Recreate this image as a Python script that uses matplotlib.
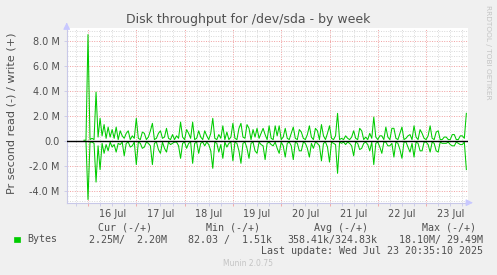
import matplotlib
matplotlib.use("Agg")
import matplotlib.pyplot as plt
import matplotlib.dates as mdates
from matplotlib.patches import Rectangle
from matplotlib.ticker import FuncFormatter, MultipleLocator
import numpy as np
import pandas as pd

# hourly samples in MB/s, first one at 15 Jul 22:00
start = "2025-07-15 22:00"
write_m = [0.05, 0.05,
           # 16 Jul
           8.5, 0.1, 0.2, 0.1, 3.9, 0.3, 1.8, 0.4, 1.3, 0.2, 1.1, 0.3,
           0.9, 0.2, 1.1, 0.1, 0.8, 0.4, 0.2, 0.6, 0.8, 0.1, 0.4, 0.2,
           # 17 Jul
           1.8, 0.2, 0.1, 0.7, 0.6, 0.1, 0.3, 0.8, 1.4, 0.1, 0.2, 0.6,
           0.8, 0.2, 0.3, 1.0, 0.2, 0.1, 0.5, 0.1, 0.4, 0.2, 1.5, 0.3,
           # 18 Jul
           0.1, 0.9, 0.6, 0.2, 1.5, 0.1, 0.2, 0.8, 0.3, 0.1, 0.8, 0.4,
           0.1, 0.6, 1.8, 0.2, 0.1, 0.5, 0.2, 1.2, 0.1, 0.7, 0.1, 0.3,
           # 19 Jul
           1.4, 0.2, 0.1, 1.0, 1.4, 0.3, 0.2, 1.3, 1.0, 0.1, 0.9, 0.3,
           1.0, 0.2, 0.6, 1.0, 0.5, 0.1, 1.2, 0.2, 0.1, 1.2, 0.4, 1.2,
           # 20 Jul
           0.1, 0.3, 1.0, 0.2, 0.1, 0.6, 1.1, 0.2, 0.1, 0.9, 0.7, 0.2,
           0.1, 0.5, 1.2, 0.3, 0.1, 1.0, 0.8, 0.1, 1.3, 0.4, 0.1, 0.6,
           # 21 Jul
           1.2, 0.2, 0.1, 0.4, 2.2, 0.1, 0.2, 0.1, 0.4, 0.2, 0.1, 0.3,
           0.8, 0.2, 0.1, 1.0, 0.8, 0.1, 0.3, 0.1, 0.6, 0.2, 1.9, 0.3,
           # 22 Jul
           0.1, 0.4, 0.4, 0.1, 1.1, 0.3, 0.1, 1.0, 1.0, 0.2, 0.1, 0.6,
           1.1, 0.1, 0.2, 0.4, 0.5, 0.1, 1.2, 0.3, 0.1, 0.9, 0.6, 0.2,
           # 23 Jul
           0.1, 0.4, 1.2, 0.2, 0.1, 0.7, 0.8, 0.1, 0.1, 0.3, 0.3, 0.1,
           0.1, 0.5, 0.5, 0.1, 0.1, 0.4, 0.4, 0.2, 2.2]
read_m = [0.05, 0.05,
          # 16 Jul
          4.7, 0.1, 0.1, 0.2, 3.3, 0.4, 2.3, 0.2, 1.0, 0.3, 0.8, 0.1,
          0.5, 0.3, 0.9, 0.2, 0.3, 0.1, 1.2, 0.2, 0.1, 0.5, 0.4, 0.1,
          # 17 Jul
          1.9, 0.1, 0.2, 0.6, 0.5, 0.1, 0.2, 0.4, 1.9, 0.2, 0.1, 0.7,
          1.0, 0.1, 0.6, 0.9, 0.1, 0.3, 0.2, 0.1, 0.1, 0.4, 1.4, 0.2,
          # 18 Jul
          0.1, 0.6, 0.2, 0.1, 1.8, 0.2, 0.1, 1.0, 0.2, 0.1, 0.4, 0.1,
          0.3, 0.8, 2.2, 0.1, 0.2, 0.9, 0.3, 1.4, 0.1, 0.5, 0.2, 0.1,
          # 19 Jul
          1.6, 0.1, 0.2, 0.8, 1.8, 0.2, 0.1, 0.6, 1.4, 0.2, 0.1, 0.8,
          1.0, 0.1, 0.3, 0.4, 1.5, 0.2, 0.1, 0.3, 0.4, 0.1, 0.6, 1.0,
          # 20 Jul
          0.1, 0.4, 1.3, 0.2, 0.1, 0.4, 1.5, 0.1, 0.2, 0.8, 0.8, 0.1,
          0.2, 0.6, 1.3, 0.2, 0.6, 0.1, 0.2, 0.4, 1.6, 0.2, 0.1, 0.5,
          # 21 Jul
          1.7, 0.1, 0.2, 0.3, 2.6, 0.1, 0.2, 0.1, 0.3, 0.1, 0.2, 0.4,
          1.2, 0.1, 0.2, 0.7, 0.6, 0.2, 0.1, 0.3, 0.8, 0.1, 1.9, 0.2,
          # 22 Jul
          0.1, 0.5, 1.0, 0.1, 0.1, 0.4, 0.4, 0.2, 1.3, 0.1, 0.2, 0.7,
          1.4, 0.1, 0.1, 0.5, 0.9, 0.2, 1.3, 0.1, 0.2, 0.8, 0.8, 0.1,
          # 23 Jul
          0.1, 0.3, 0.9, 0.1, 0.2, 0.8, 0.9, 0.1, 0.2, 0.2, 0.2, 0.1,
          0.3, 0.4, 0.4, 0.1, 0.2, 0.3, 0.3, 0.1, 2.3]

yticks = [-4e6, -2e6, 0, 2e6, 4e6, 6e6, 8e6]
days = ["16 Jul", "17 Jul", "18 Jul", "19 Jul", "20 Jul", "21 Jul", "22 Jul", "23 Jul"]

legend_head = ["Cur (-/+)", "Min (-/+)", "Avg (-/+)", "Max (-/+)"]
legend_vals = ["2.25M/  2.20M", "82.03 /  1.51k", "358.41k/324.83k", "18.10M/ 29.49M"]

times = pd.date_range(start, periods=len(write_m), freq="1h")
write = np.array(write_m) * 1e6
read = np.array(read_m) * 1e6

W, H = 497, 275
fig = plt.figure(figsize=(W / 100, H / 100), dpi=100, facecolor="#F0F0F0")
ax = fig.add_axes([66.7 / W, 1 - 202.7 / H, 401 / W, 175 / H], facecolor="white")

green = "#00CC00"
txt = "#505050"

ax.plot(times, write, color=green, lw=0.75, zorder=3)
ax.plot(times, -read, color=green, lw=0.75, zorder=3)
ax.axhline(0, color="black", lw=1.0, zorder=4)

ax.set_xlim(pd.Timestamp("2025-07-15 13:25"), pd.Timestamp("2025-07-23 20:40"))
ax.set_ylim(-4.95e6, 9.05e6)

# grids: minor grey dotted, major red dotted
ax.xaxis.set_major_locator(mdates.DayLocator())
ax.xaxis.set_minor_locator(mdates.HourLocator(byhour=[0, 6, 12, 18]))
ax.xaxis.set_major_formatter(FuncFormatter(lambda v, p: ""))
ax.set_yticks(yticks)
ax.yaxis.set_minor_locator(MultipleLocator(0.4e6))
ax.yaxis.set_major_formatter(FuncFormatter(
    lambda v, p: "0.0" if v == 0 else "%.1f M" % (v / 1e6)))

ax.grid(which="minor", color="#D8D8D8", lw=0.7, ls=(0, (1, 1.5)), zorder=1)
ax.grid(which="major", color="#F0A0A0", lw=0.7, ls=(0, (1, 1.5)), zorder=2)

for s in ["top", "right"]:
    ax.spines[s].set_visible(False)
for s in ["bottom", "left"]:
    ax.spines[s].set_color("#C8C8E8")
    ax.spines[s].set_linewidth(0.8)

ax.tick_params(axis="both", which="both", colors="#C8C8E8", labelcolor=txt,
               labelsize=7, length=2, width=0.6)
ax.tick_params(axis="x", which="major", colors="#F0A0A0", labelcolor=txt, length=2)
ax.tick_params(axis="y", which="minor", length=0)
ax.tick_params(axis="y", which="major", length=2, pad=3)

for i, d in enumerate(days):
    t = pd.Timestamp("2025-07-16 12:00") + pd.Timedelta(days=i)
    ax.text(t, -0.035, d, transform=ax.get_xaxis_transform(), ha="center", va="top",
            fontsize=7, color=txt)

# axis arrows
ax.annotate("", xy=(1.0 + 8 / 401, 0), xytext=(1.0, 0), xycoords="axes fraction",
            arrowprops=dict(arrowstyle="-|>", color="#C8C8FF", lw=0.8), annotation_clip=False)
ax.annotate("", xy=(0, 1.0 + 8 / 175), xytext=(0, 1.0), xycoords="axes fraction",
            arrowprops=dict(arrowstyle="-|>", color="#C8C8FF", lw=0.8), annotation_clip=False)

fig.text(248 / W, 1 - 19 / H, "Disk throughput for /dev/sda - by week", ha="center",
         va="center", fontsize=9.0, color=txt)
fig.text(12 / W, 1 - 113 / H, "Pr second read (-) / write (+)", rotation=90,
         ha="center", va="center", fontsize=8.1, color=txt)
fig.text(488 / W, 1 - 5 / H, "RRDTOOL / TOBI OETIKER", rotation=270, ha="center",
         va="top", fontsize=5.3, color="#C4C4C4")

mono = "DejaVu Sans Mono"
fig.patches.append(Rectangle((14 / W, 1 - 242 / H), 5.5 / W, 5.5 / H, transform=fig.transFigure,
                             facecolor=green, edgecolor=green, lw=0.5))
fig.text(27 / W, 1 - 239.5 / H, "Bytes", family=mono, fontsize=7.2, color=txt, va="center")
head_x = [98, 206, 314, 422]
val_x = [89, 188, 287, 399]
for hx, hd in zip(head_x, legend_head):
    fig.text(hx / W, 1 - 228 / H, hd, family=mono, fontsize=7.2, color=txt, va="center")
for vx, vl in zip(val_x, legend_vals):
    fig.text(vx / W, 1 - 239.5 / H, vl, family=mono, fontsize=7.2, color=txt, va="center")
fig.text(483 / W, 1 - 251 / H, "Last update: Wed Jul 23 20:35:10 2025", family=mono,
         fontsize=7.2, color=txt, va="center", ha="right")
fig.text(248 / W, 1 - 264 / H, "Munin 2.0.75", ha="center", va="center",
         fontsize=5.5, color="#C4C4C4")

fig.savefig("out.png", dpi=100, facecolor=fig.get_facecolor())
